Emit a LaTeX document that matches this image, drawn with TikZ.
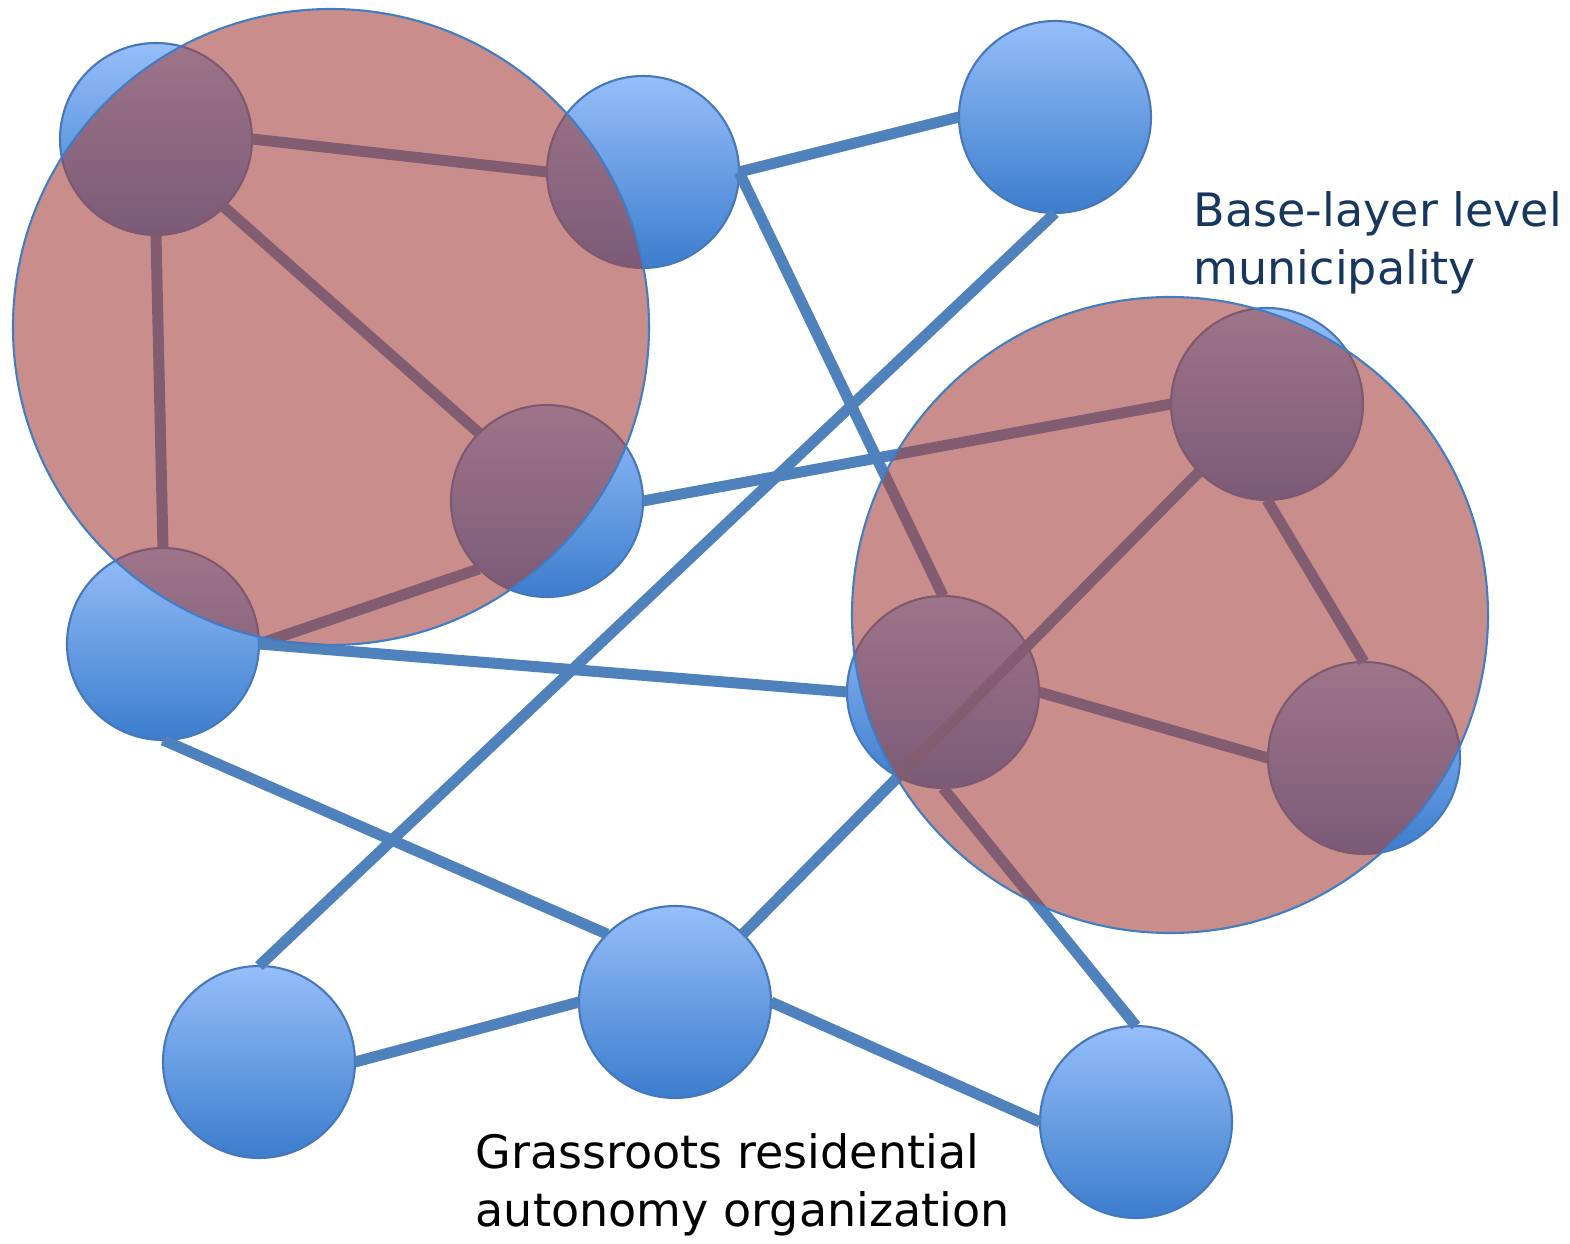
\documentclass[tikz,border=0pt]{standalone}
\usepackage{fontspec}
\setmainfont{DejaVu Sans}
\usetikzlibrary{positioning}
\definecolor{nodetop}{RGB}{150,190,250}
\definecolor{nodemid}{RGB}{122,168,238}
\definecolor{nodebot}{RGB}{60,125,205}
\definecolor{nodeline}{RGB}{70,120,185}
\definecolor{linkblue}{RGB}{79,129,189}
\definecolor{munifill}{RGB}{165,68,63}
\definecolor{muniline}{RGB}{65,125,195}
\definecolor{textnavy}{RGB}{23,55,94}

\begin{document}
\begin{tikzpicture}[
    unit/.style={circle, draw=nodeline, line width=0.6pt, top color=nodetop, middle color=nodemid,
      bottom color=nodebot, minimum size=1.92cm, inner sep=0pt, outer sep=0pt},
    muni/.style={circle, draw=muniline, line width=0.6pt, fill=munifill, fill opacity=0.6,
      minimum size=6.36cm, inner sep=0pt},
    link/.style={draw=linkblue, line width=0.11cm},
    note/.style={align=left, inner sep=0pt, font=\fontsize{13.1}{16.4}\selectfont}]

  \useasboundingbox[fill=white] (-6.75,-2.41) rectangle (8.95,10.02);

  % Define nodes
  \node[unit] (I) at (0,0) {};

  \node[unit, left=2.24cm of I, yshift=-0.6cm] (J) {};
  \node[unit, right=2.69cm of I, yshift=-1.2cm] (K) {};

  \node[unit, above=1.18cm of I, xshift=2.68cm] (F) {};
  \node[unit, above=0.96cm of F, xshift=3.24cm] (G) {};
  \node[unit, right=2.29cm of F, yshift=-0.66cm] (H) {};

  \node[unit, above=2.26cm of J, xshift=-0.96cm] (E) {};
  \node[unit, right=1.92cm of E, yshift=1.43cm] (D) {};
  \node[unit, above=3.13cm of E, xshift=-0.07cm] (A) {};
  \node[unit, right=2.95cm of A, yshift=-0.33cm] (B) {};
  \node[unit, right=2.20cm of B, yshift=0.55cm] (C) {};

  \draw[link] (A.east) -- (B.west);
  \draw[link] (A.south) -- (E.north);
  \draw[link] (A.south east) -- (D.north west);
  \draw[link] (B.east) -- (C.west);
  \draw[link] (B.east) -- (F.north);
  \draw[link] (C.south) -- (J.north);
  \draw[link] (D.east) -- (G.west);
  \draw[link] (D.south west) -- (E.east);
  \draw[link] (E.east) -- (F.west);
  \draw[link] (E.south) -- (I.north west);
  \draw[link] (F.east) -- (H.west);
  \draw[link] (F.south) -- (K.north);
  \draw[link] (G.south) -- (H.north);
  \draw[link] (G.south west) -- (I.north east);
  \draw[link] (I.west) -- (J.east);
  \draw[link] (I.east) -- (K.west);

  % municipalities on top
  \node[muni] (m1) at (-3.44,6.75) {};
  \node[muni] (m2) at (4.95,3.87) {};

  \node[note, anchor=north west, text=textnavy] (munitext) at (5.18,8.11) {Base-layer level\\municipality};
  \node[note, anchor=north west] (grasstext) at (-2.00,-1.31) {Grassroots residential\\autonomy organization};

\end{tikzpicture}
\end{document}
